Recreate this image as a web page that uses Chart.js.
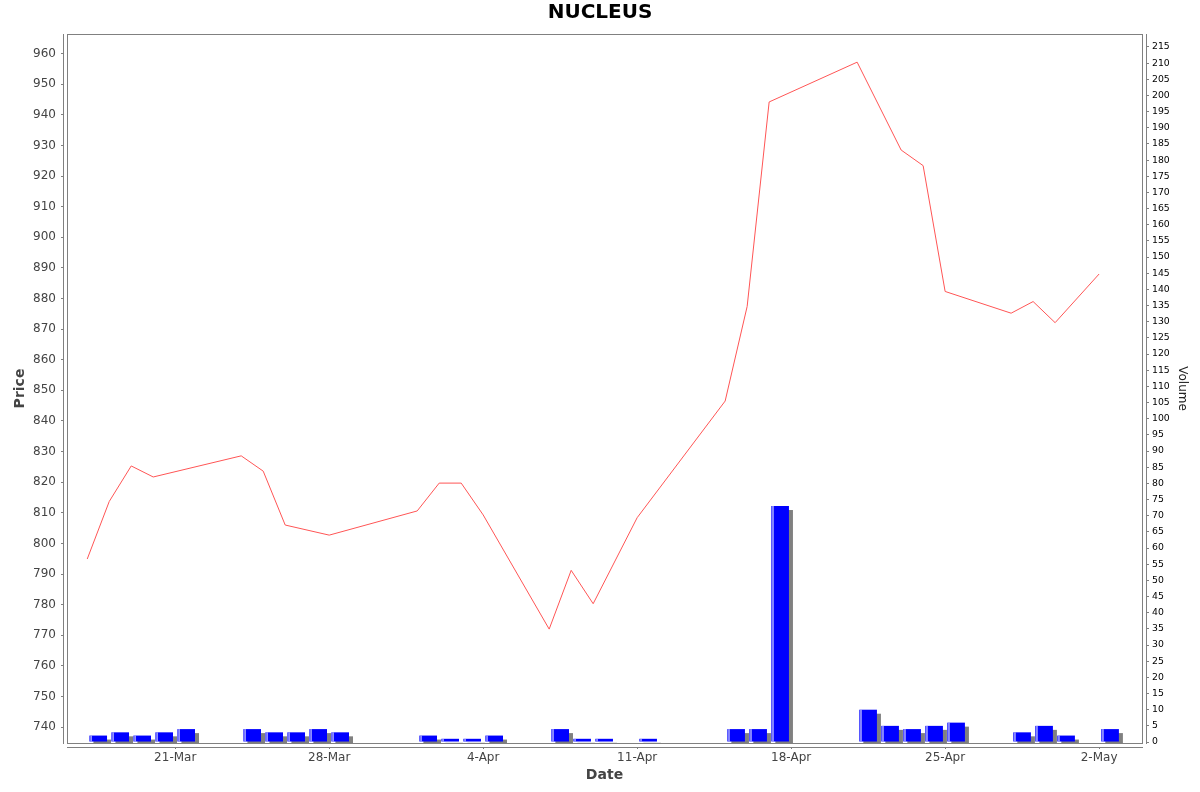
<!DOCTYPE html>
<html>
<head>
<meta charset="utf-8">
<title>NUCLEUS</title>
<script src="https://cdn.jsdelivr.net/npm/chart.js@4.4.1/dist/chart.umd.min.js"></script>
<style>
  html, body { margin: 0; padding: 0; background: #fff; }
  #wrap { width: 1200px; height: 792px; }
</style>
</head>
<body>
<div id="wrap"><canvas id="chart" width="1200" height="792"></canvas></div>
<script>
// closing price (only the dates where the line bends)
const priceDates = ['2025-03-17', '2025-03-18', '2025-03-19', '2025-03-20', '2025-03-24', '2025-03-25',
  '2025-03-26', '2025-03-28', '2025-04-01', '2025-04-02', '2025-04-03', '2025-04-04', '2025-04-07',
  '2025-04-08', '2025-04-09', '2025-04-11', '2025-04-15', '2025-04-16', '2025-04-17', '2025-04-21',
  '2025-04-23', '2025-04-24', '2025-04-25', '2025-04-28', '2025-04-29', '2025-04-30', '2025-05-02']
const prices = [794.9, 813.7, 825.3, 821.7, 828.6, 823.6,
  806.0, 802.7, 810.6, 819.7, 819.7, 809.3, 772.0,
  791.2, 780.3, 808.4, 846.5, 877.4, 944.2, 957.2,
  928.5, 923.4, 882.3, 875.2, 879.0, 872.1, 888.0]

// traded volume, one bar per trading day
const volDates = ['2025-03-17', '2025-03-18', '2025-03-19', '2025-03-20', '2025-03-21',
  '2025-03-24', '2025-03-25', '2025-03-26', '2025-03-27', '2025-03-28',
  '2025-04-01', '2025-04-02', '2025-04-03', '2025-04-04',
  '2025-04-07', '2025-04-08', '2025-04-09', '2025-04-11',
  '2025-04-15', '2025-04-16', '2025-04-17',
  '2025-04-21', '2025-04-22', '2025-04-23', '2025-04-24', '2025-04-25',
  '2025-04-28', '2025-04-29', '2025-04-30', '2025-05-02']
const volumes = [2, 3, 2, 3, 4,
  4, 3, 3, 4, 3,
  2, 1, 1, 2,
  4, 1, 1, 1,
  4, 4, 73,
  10, 5, 4, 5, 6,
  3, 5, 2, 4]

// x axis ticks
const tickDates = ['2025-03-21', '2025-03-28', '2025-04-04', '2025-04-11', '2025-04-18', '2025-04-25', '2025-05-02']
const tickLabels = ['21-Mar', '28-Mar', '4-Apr', '11-Apr', '18-Apr', '25-Apr', '2-May']

const dayNum = s => Date.UTC(+s.slice(0, 4), +s.slice(5, 7) - 1, +s.slice(8, 10)) / 86400000
const tickDays = tickDates.map(dayNum)

const FONT = 'DejaVu Sans'
Chart.defaults.font.family = FONT

// grey shadow behind each volume bar + light streak on its left side
const barLook = {
  id: 'barLook',
  beforeDatasetDraw(chart, args) {
    if (args.meta.type !== 'bar') return
    const { ctx, chartArea: a } = chart
    ctx.save()
    ctx.beginPath()
    ctx.rect(a.left, a.top, a.right - a.left, a.bottom - a.top)
    ctx.clip()
    ctx.fillStyle = '#808080'
    args.meta.data.forEach(bar => {
      const { x, y, base, width } = bar.getProps(['x', 'y', 'base', 'width'], true)
      ctx.fillRect(x - width / 2 + 4, y + 4, width, base - y)
    })
    ctx.restore()
  },
  afterDatasetDraw(chart, args) {
    if (args.meta.type !== 'bar') return
    const { ctx } = chart
    ctx.save()
    ctx.fillStyle = '#c8c8ff'
    args.meta.data.forEach(bar => {
      const { x, y, base, width } = bar.getProps(['x', 'y', 'base', 'width'], true)
      ctx.fillRect(x - width / 2 + 1, y, 1.3, base - y)
    })
    ctx.restore()
  }
}

// plot outline with the axis lines set a few pixels away from it
const frame = {
  id: 'frame',
  afterDraw(chart) {
    const { ctx, chartArea: a } = chart
    const w = a.right - a.left, h = a.bottom - a.top
    ctx.save()
    ctx.fillStyle = '#fff'
    ctx.fillRect(a.left - 3, a.top, 3, h)
    ctx.fillRect(a.right + 1, a.top, 3, h)
    ctx.fillRect(a.left, a.bottom + 1, w, 3)
    ctx.strokeStyle = '#808080'
    ctx.lineWidth = 1
    ctx.strokeRect(a.left + 0.5, a.top + 0.5, w, h)
    ctx.beginPath()
    ctx.moveTo(a.left - 3.5, a.top)
    ctx.lineTo(a.left - 3.5, a.bottom + 1)
    ctx.moveTo(a.right + 4.5, a.top)
    ctx.lineTo(a.right + 4.5, a.bottom + 1)
    ctx.moveTo(a.left, a.bottom + 4.5)
    ctx.lineTo(a.right + 1, a.bottom + 4.5)
    ctx.stroke()
    ctx.restore()
  }
}

const axisGrid = len => ({ display: true, drawOnChartArea: false, drawTicks: true, tickLength: len, color: '#808080', lineWidth: 1, offset: false })

new Chart(document.getElementById('chart'), {
  type: 'bar',
  data: {
    datasets: [{
      type: 'line',
      label: 'Price',
      data: priceDates.map((d, i) => ({ x: dayNum(d), y: prices[i] })),
      yAxisID: 'y',
      borderColor: '#FF5555',
      borderWidth: 1,
      pointRadius: 0,
      tension: 0,
      fill: false,
      order: 0
    }, {
      type: 'bar',
      label: 'Volume',
      data: volDates.map((d, i) => ({ x: dayNum(d) + 0.5, y: volumes[i] })),
      yAxisID: 'y1',
      backgroundColor: '#0000FF',
      borderWidth: 0,
      barPercentage: 0.8,
      categoryPercentage: 1.0,
      order: 1
    }]
  },
  options: {
    responsive: false,
    devicePixelRatio: 1,
    animation: false,
    events: [],
    layout: { padding: 0 },
    plugins: {
      legend: { display: false },
      tooltip: { enabled: false },
      title: {
        display: true,
        text: 'NUCLEUS',
        color: '#000',
        font: { family: FONT, size: 20, weight: 'bold' },
        padding: { top: 0.5, bottom: 9.5 }
      }
    },
    scales: {
      x: {
        type: 'linear',
        position: 'bottom',
        offset: false,
        min: dayNum('2025-03-16') + 0.08,
        max: dayNum('2025-05-04') - 0.05,
        grid: axisGrid(6),
        border: { display: false },
        afterBuildTicks: s => { s.ticks = tickDays.map(v => ({ value: v })) },
        ticks: {
          autoSkip: false,
          maxRotation: 0,
          padding: 2,
          color: '#444',
          font: { family: FONT, size: 12 },
          callback: v => tickLabels[tickDays.indexOf(v)]
        },
        title: {
          display: true,
          text: 'Date',
          color: '#444',
          font: { family: FONT, size: 14, weight: 'bold' },
          padding: { top: 0, bottom: 8 }
        },
        afterFit: s => { s.height = 49 }
      },
      y: {
        type: 'linear',
        position: 'left',
        min: 734.8,
        max: 966.4,
        grid: axisGrid(6),
        border: { display: false },
        ticks: {
          stepSize: 10,
          includeBounds: false,
          autoSkip: false,
          padding: 5,
          color: '#444',
          font: { family: FONT, size: 12 }
        },
        title: {
          display: true,
          text: 'Price',
          color: '#444',
          font: { family: FONT, size: 14, weight: 'bold' },
          padding: { top: 12, bottom: 0 }
        },
        afterFit: s => { s.width = 67 }
      },
      y1: {
        type: 'linear',
        position: 'right',
        min: -0.3,
        max: 219,
        grid: axisGrid(7),
        border: { display: false },
        ticks: {
          stepSize: 5,
          includeBounds: false,
          autoSkip: false,
          padding: 3,
          color: '#000',
          font: { family: FONT, size: 9.3 }
        },
        title: {
          display: true,
          text: 'Volume',
          color: '#222',
          font: { family: FONT, size: 12 },
          padding: { top: 11, bottom: 0 }
        },
        afterFit: s => { s.width = 58 }
      }
    }
  },
  plugins: [barLook, frame]
})
</script>
</body>
</html>
